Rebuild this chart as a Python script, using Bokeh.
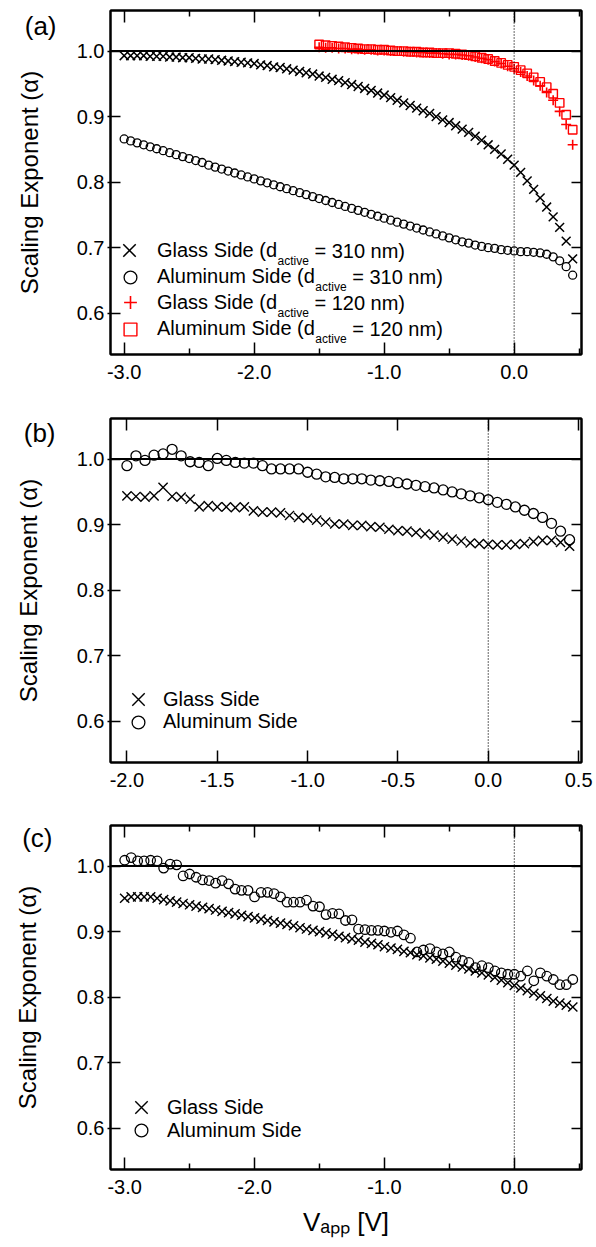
from bokeh.plotting import figure
from bokeh.models import (Range1d, LinearAxis, FixedTicker, PrintfTickFormatter,
                          CustomJSTickFormatter, Span, Legend, LegendItem, Label)
from bokeh.layouts import column
from bokeh.core.properties import value
from bokeh.embed import file_html
from bokeh.resources import INLINE

FONT = "Liberation Sans"

# ---------------- data ----------------
V_FULL = [-3.00, -2.95, -2.90, -2.85, -2.80, -2.75, -2.70, -2.65, -2.60, -2.55,
          -2.50, -2.45, -2.40, -2.35, -2.30, -2.25, -2.20, -2.15, -2.10, -2.05,
          -2.00, -1.95, -1.90, -1.85, -1.80, -1.75, -1.70, -1.65, -1.60, -1.55,
          -1.50, -1.45, -1.40, -1.35, -1.30, -1.25, -1.20, -1.15, -1.10, -1.05,
          -1.00, -0.95, -0.90, -0.85, -0.80, -0.75, -0.70, -0.65, -0.60, -0.55,
          -0.50, -0.45, -0.40, -0.35, -0.30, -0.25, -0.20, -0.15, -0.10, -0.05,
          0.00, 0.05, 0.10, 0.15, 0.20, 0.25, 0.30, 0.35, 0.40, 0.45]

V_RED = [-1.50, -1.45, -1.40, -1.35, -1.30, -1.25, -1.20, -1.15, -1.10, -1.05,
         -1.00, -0.95, -0.90, -0.85, -0.80, -0.75, -0.70, -0.65, -0.60, -0.55,
         -0.50, -0.45, -0.40, -0.35, -0.30, -0.25, -0.20, -0.15, -0.10, -0.05,
         0.00, 0.05, 0.10, 0.15, 0.20, 0.25, 0.30, 0.35, 0.40, 0.45]

V_B = [-2.00, -1.95, -1.90, -1.85, -1.80, -1.75, -1.70, -1.65, -1.60, -1.55,
       -1.50, -1.45, -1.40, -1.35, -1.30, -1.25, -1.20, -1.15, -1.10, -1.05,
       -1.00, -0.95, -0.90, -0.85, -0.80, -0.75, -0.70, -0.65, -0.60, -0.55,
       -0.50, -0.45, -0.40, -0.35, -0.30, -0.25, -0.20, -0.15, -0.10, -0.05,
       0.00, 0.05, 0.10, 0.15, 0.20, 0.25, 0.30, 0.35, 0.40, 0.45]

# panel (a)
A_GLASS_310 = [0.993, 0.993, 0.993, 0.993, 0.992, 0.992, 0.992, 0.991, 0.991, 0.990,
               0.990, 0.989, 0.988, 0.988, 0.987, 0.986, 0.985, 0.984, 0.983, 0.982,
               0.981, 0.979, 0.978, 0.976, 0.975, 0.973, 0.971, 0.969, 0.967, 0.965,
               0.962, 0.960, 0.957, 0.955, 0.952, 0.949, 0.946, 0.943, 0.940, 0.936,
               0.933, 0.929, 0.925, 0.921, 0.917, 0.913, 0.909, 0.905, 0.900, 0.895,
               0.891, 0.886, 0.881, 0.876, 0.870, 0.864, 0.857, 0.850, 0.843, 0.835,
               0.826, 0.815, 0.802, 0.789, 0.776, 0.762, 0.747, 0.731, 0.710, 0.683]
A_ALUM_310 = [0.866, 0.863, 0.860, 0.857, 0.854, 0.851, 0.848, 0.845, 0.842, 0.839,
              0.836, 0.833, 0.830, 0.826, 0.823, 0.820, 0.817, 0.814, 0.811, 0.808,
              0.805, 0.802, 0.799, 0.796, 0.793, 0.790, 0.787, 0.784, 0.781, 0.778,
              0.775, 0.772, 0.769, 0.766, 0.763, 0.760, 0.757, 0.754, 0.751, 0.748,
              0.745, 0.742, 0.739, 0.736, 0.733, 0.730, 0.727, 0.724, 0.721, 0.718,
              0.715, 0.712, 0.709, 0.707, 0.704, 0.702, 0.700, 0.699, 0.697, 0.696,
              0.695, 0.694, 0.694, 0.693, 0.692, 0.690, 0.686, 0.680, 0.671, 0.658]
A_GLASS_120 = [1.006, 1.005, 1.005, 1.004, 1.004, 1.003, 1.003, 1.002, 1.002, 1.001,
               1.001, 1.000, 1.000, 0.999, 0.999, 0.998, 0.998, 0.997, 0.997, 0.996,
               0.995, 0.995, 0.994, 0.993, 0.991, 0.989, 0.987, 0.984, 0.981, 0.977,
               0.973, 0.968, 0.962, 0.955, 0.947, 0.937, 0.925, 0.908, 0.888, 0.857]
A_ALUM_120 = [1.010, 1.009, 1.008, 1.007, 1.006, 1.005, 1.004, 1.003, 1.003, 1.002,
              1.002, 1.001, 1.000, 1.000, 0.999, 0.999, 0.998, 0.998, 0.997, 0.997,
              0.997, 0.996, 0.995, 0.994, 0.992, 0.990, 0.988, 0.985, 0.982, 0.979,
              0.976, 0.971, 0.966, 0.960, 0.953, 0.945, 0.935, 0.921, 0.903, 0.880]

# panel (b)
B_GLASS = [0.944, 0.943, 0.942, 0.944, 0.957, 0.943, 0.942, 0.939, 0.927, 0.929,
           0.927, 0.927, 0.926, 0.927, 0.921, 0.919, 0.919, 0.918, 0.914, 0.911,
           0.910, 0.907, 0.904, 0.901, 0.901, 0.899, 0.899, 0.897, 0.896, 0.893,
           0.891, 0.890, 0.888, 0.886, 0.884, 0.881, 0.878, 0.875, 0.872, 0.871,
           0.870, 0.869, 0.869, 0.870, 0.871, 0.874, 0.876, 0.876, 0.873, 0.867]
B_ALUM = [0.990, 1.005, 0.998, 1.006, 1.008, 1.015, 1.005, 0.996, 0.995, 0.990,
          1.001, 0.998, 0.995, 0.994, 0.994, 0.990, 0.985, 0.985, 0.985, 0.985,
          0.980, 0.977, 0.973, 0.972, 0.970, 0.970, 0.970, 0.968, 0.967, 0.966,
          0.964, 0.962, 0.960, 0.958, 0.956, 0.953, 0.950, 0.947, 0.944, 0.941,
          0.938, 0.934, 0.931, 0.927, 0.922, 0.917, 0.911, 0.902, 0.890, 0.877]

# panel (c)
C_GLASS = [0.951, 0.953, 0.953, 0.953, 0.953, 0.951, 0.949, 0.947, 0.945, 0.943,
           0.941, 0.939, 0.937, 0.935, 0.933, 0.931, 0.929, 0.927, 0.925, 0.923,
           0.921, 0.919, 0.917, 0.915, 0.913, 0.911, 0.909, 0.906, 0.904, 0.902,
           0.900, 0.898, 0.896, 0.893, 0.891, 0.889, 0.887, 0.884, 0.882, 0.880,
           0.877, 0.875, 0.873, 0.870, 0.868, 0.865, 0.863, 0.860, 0.858, 0.855,
           0.852, 0.849, 0.846, 0.843, 0.840, 0.837, 0.834, 0.830, 0.826, 0.822,
           0.818, 0.814, 0.810, 0.806, 0.802, 0.798, 0.794, 0.791, 0.788, 0.785]
C_ALUM = [1.009, 1.013, 1.008, 1.008, 1.009, 1.008, 0.997, 1.003, 1.002, 0.985,
          0.988, 0.983, 0.979, 0.978, 0.974, 0.978, 0.973, 0.965, 0.963, 0.963,
          0.953, 0.960, 0.960, 0.958, 0.953, 0.945, 0.945, 0.945, 0.948, 0.939,
          0.938, 0.926, 0.928, 0.927, 0.917, 0.918, 0.904, 0.903, 0.902, 0.902,
          0.901, 0.899, 0.901, 0.895, 0.890, 0.869, 0.872, 0.874, 0.869, 0.866,
          0.869, 0.861, 0.856, 0.853, 0.845, 0.848, 0.845, 0.840, 0.837, 0.835,
          0.835, 0.832, 0.840, 0.825, 0.837, 0.832, 0.827, 0.819, 0.819, 0.827]

X_TICKS_3V = [-3.0, -2.0, -1.0, 0.0]
X_MINOR_3V = [-2.5, -1.5, -0.5, 0.5]
X_TICKS_B = [-2.0, -1.5, -1.0, -0.5, 0.0, 0.5]
Y_TICKS = [0.6, 0.7, 0.8, 0.9, 1.0]
Y_RANGE = (0.537, 1.062)

Y_TITLE = "Scaling Exponent (\u03b1)"
X_TITLE = "V\u2090\u209a\u209a [V]"


def make_fig(height, bl, br, bt, bb, xr):
    p = figure(width=596, height=height,
               x_range=Range1d(*xr), y_range=Range1d(*Y_RANGE),
               output_backend="svg", toolbar_location=None,
               x_axis_location=None, y_axis_location=None,
               min_border_left=bl, min_border_right=br,
               min_border_top=bt, min_border_bottom=bb)
    p.grid.visible = False
    p.outline_line_color = "black"
    p.outline_line_width = 2
    p.background_fill_color = "white"
    p.border_fill_color = "white"
    return p


def add_axes(p, xticks, xminor, title_standoff, tag, tag_y, tag_standoff,
             xtitle=None):
    xt = FixedTicker(ticks=xticks, minor_ticks=xminor)
    yt = FixedTicker(ticks=Y_TICKS)
    common = dict(axis_line_color="black", axis_line_width=2,
                  major_tick_line_color="black", major_tick_line_width=1.5,
                  minor_tick_line_color="black", minor_tick_line_width=1.5)
    lab = dict(major_label_text_font=FONT, major_label_text_font_size="20px",
               major_label_text_color="black")
    empty = dict(formatter=CustomJSTickFormatter(code="return ''"),
                 major_label_text_font_size="0px", major_label_standoff=0)
    bottom = LinearAxis(ticker=xt, formatter=PrintfTickFormatter(format="%.1f"),
                        major_tick_in=12, major_tick_out=0,
                        minor_tick_in=6, minor_tick_out=0,
                        major_label_standoff=10, **lab, **common)
    if xtitle is not None:
        bottom.axis_label = xtitle
        bottom.axis_label_text_font = FONT
        bottom.axis_label_text_font_size = "26px"
        bottom.axis_label_text_font_style = "normal"
        bottom.axis_label_text_color = "black"
        bottom.axis_label_standoff = 10
    top = LinearAxis(ticker=xt, major_tick_in=12, major_tick_out=0,
                     minor_tick_in=6, minor_tick_out=0, **empty, **common)
    left = LinearAxis(ticker=yt, formatter=PrintfTickFormatter(format="%.1f"),
                      major_tick_in=10, major_tick_out=3,
                      minor_tick_in=0, minor_tick_out=0,
                      major_label_standoff=3, **lab, **common,
                      axis_label=Y_TITLE, axis_label_text_font=FONT,
                      axis_label_text_font_size="24px",
                      axis_label_text_font_style="normal",
                      axis_label_text_color="black",
                      axis_label_standoff=title_standoff)
    right = LinearAxis(ticker=yt, major_tick_in=10, major_tick_out=0,
                       minor_tick_in=0, minor_tick_out=0, **empty, **common)
    # outer left "axis" that only carries the panel tag, e.g. "(a)"
    tag_axis = LinearAxis(ticker=FixedTicker(ticks=[tag_y]),
                          formatter=CustomJSTickFormatter(code="return '%s'" % tag),
                          major_tick_in=0, major_tick_out=0,
                          minor_tick_in=0, minor_tick_out=0,
                          axis_line_color=None, major_tick_line_color=None,
                          minor_tick_line_color=None,
                          major_label_standoff=tag_standoff,
                          major_label_text_font=FONT,
                          major_label_text_font_size="26px",
                          major_label_text_color="black")
    p.add_layout(bottom, "below")
    p.add_layout(top, "above")
    p.add_layout(left, "left")
    p.add_layout(tag_axis, "left")
    p.add_layout(right, "right")
    p.add_layout(Span(location=1.0, dimension="width", line_color="black",
                      line_width=2))
    p.add_layout(Span(location=0.0, dimension="height", line_color="black",
                      line_width=1.2, line_dash="1 2"))


def screen_label(p, x, y, text, size, baseline="middle", align="left"):
    p.add_layout(Label(x=x, y=y, x_units="screen", y_units="screen", text=text,
                       text_font=FONT, text_font_size=size, text_color="black",
                       text_baseline=baseline, text_align=align))


def legend_row(p, label, renderer, loc_x, row_y, standoff, box=32):
    leg = Legend(items=[LegendItem(label=value(label), renderers=[renderer])],
                 location=(loc_x, row_y - box / 2), orientation="vertical",
                 glyph_width=box, glyph_height=box, label_standoff=standoff,
                 spacing=0, padding=0, margin=0,
                 background_fill_alpha=0, border_line_alpha=0,
                 label_text_font=FONT, label_text_font_size="20px",
                 label_text_color="black", label_height=20)
    p.add_layout(leg, "center")


# ---------------- panel (a) ----------------
pa = make_fig(406, 106, 15, 10, 52, (-3.105, 0.518))
add_axes(pa, X_TICKS_3V, X_MINOR_3V, 31, "(a)", 1.039, -44)
ra1 = pa.scatter(V_FULL, A_GLASS_310, marker="x", size=12.5, line_color="black",
                 line_width=1.5)
ra2 = pa.scatter(V_FULL, A_ALUM_310, marker="circle", size=8, line_color="black",
                 fill_color=None, line_width=1.3)
ra3 = pa.scatter(V_RED, A_GLASS_120, marker="cross", size=10, line_color="red",
                 line_width=1.6)
ra4 = pa.scatter(V_RED, A_ALUM_120, marker="square", size=8.5, line_color="red",
                 fill_color=None, line_width=1.4)
rows_a = [104, 77.5, 52, 25.5]
lead_a = ["Glass Side (d", "Aluminum Side (d", "Glass Side (d", "Aluminum Side (d"]
lead_w = [120.0, 157.8, 120.0, 157.8]
rest_a = ["= 310 nm)", "= 310 nm)", "= 120 nm)", "= 120 nm)"]
for r, yc, lead, w, rest in zip([ra1, ra2, ra3, ra4], rows_a, lead_a, lead_w, rest_a):
    if r is ra1:
        legend_row(pa, lead, r, -3, yc, 6, box=44)
    else:
        legend_row(pa, lead, r, 4, yc, 11)
    x0 = 47 + w
    screen_label(pa, x0, yc - 10, "active", "12px", baseline="alphabetic")
    screen_label(pa, x0 + 31.3 + 5.6, yc, rest, "20px")

# ---------------- panel (b) ----------------
pb = make_fig(407, 107, 13, 12, 51, (-2.091, 0.516))
add_axes(pb, X_TICKS_B, [], 32, "(b)", 1.040, -44)
rb1 = pb.scatter(V_B, B_GLASS, marker="x", size=13, line_color="black",
                 line_width=1.4)
rb2 = pb.scatter(V_B, B_ALUM, marker="circle", size=10, line_color="black",
                 fill_color=None, line_width=1.3)
legend_row(pb, "Glass Side", rb1, 6, 62.7, 3, box=44)
legend_row(pb, "Aluminum Side", rb2, 12, 40.3, 9)

# ---------------- panel (c) ----------------
pc = make_fig(434, 110, 11, 12, 78, (-3.109, 0.517))
add_axes(pc, X_TICKS_3V, X_MINOR_3V, 33, "(c)", 1.043, -42, xtitle=X_TITLE)
rc1 = pc.scatter(V_FULL, C_GLASS, marker="x", size=13, line_color="black",
                 line_width=1.4)
rc2 = pc.scatter(V_FULL, C_ALUM, marker="circle", size=9.5, line_color="black",
                 fill_color=None, line_width=1.3)
legend_row(pc, "Glass Side", rc1, 9, 61.7, 4, box=44)
legend_row(pc, "Aluminum Side", rc2, 15, 39, 10)

layout = column(pa, pb, pc)
open("out.html", "w").write(file_html(layout, INLINE))
